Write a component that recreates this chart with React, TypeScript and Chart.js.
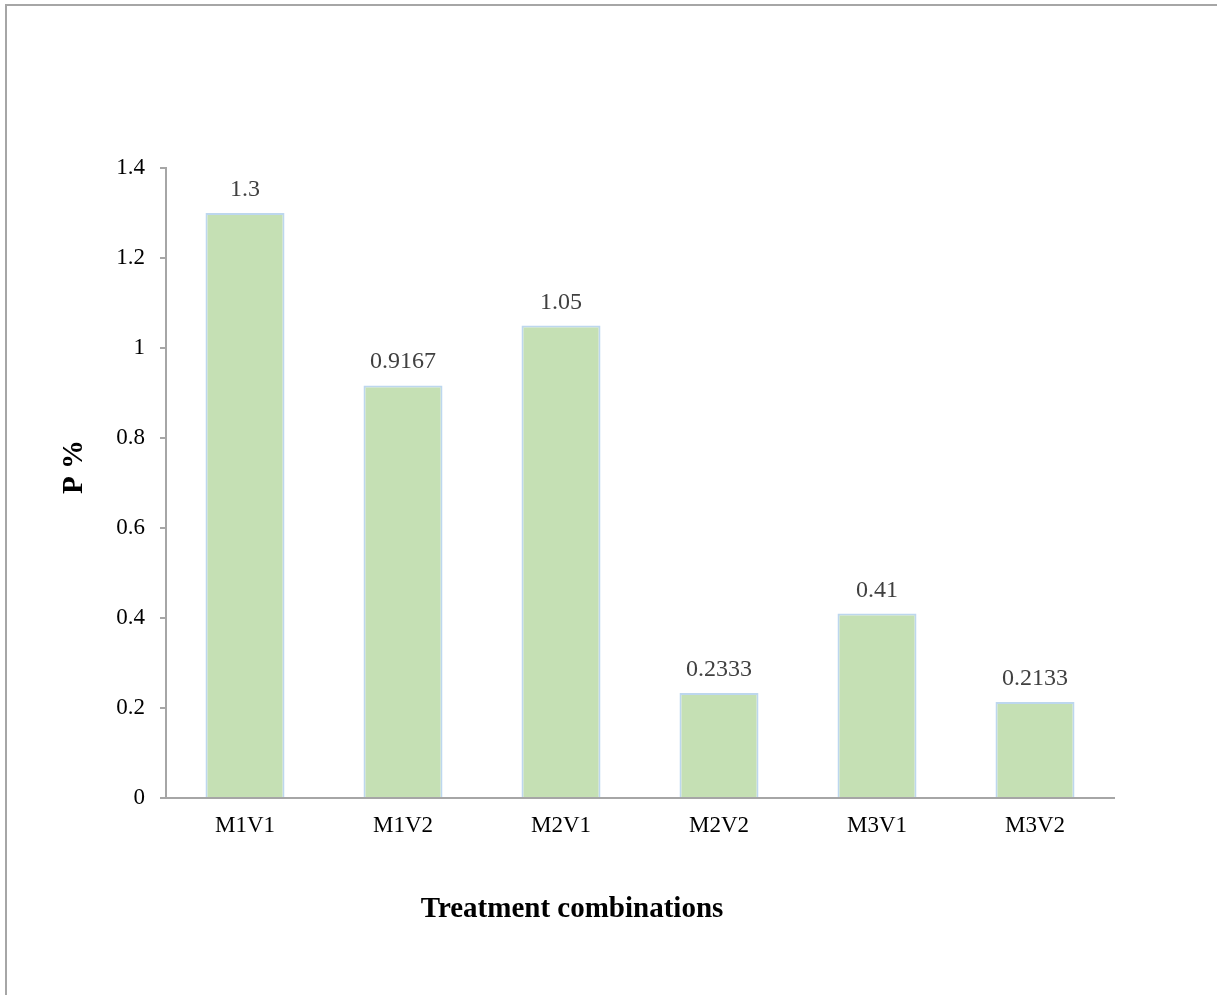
import React, { useEffect, useRef } from "react";
import { Chart, registerables } from "chart.js";

Chart.register(...registerables);

const categories = ["M1V1", "M1V2", "M2V1", "M2V2", "M3V1", "M3V2"];
const values = [1.3, 0.9167, 1.05, 0.2333, 0.41, 0.2133];
const valueLabels = ["1.3", "0.9167", "1.05", "0.2333", "0.41", "0.2133"];
const yMin = 0;
const yMax = 1.4;
const yStep = 0.2;
const xTitle = "Treatment combinations";
const yTitle = "P %";

const W = 1217;
const H = 995;
const FONT = "'Liberation Serif', 'Times New Roman', serif";

const dataLabelPlugin = {
  id: "dataLabels",
  afterDatasetsDraw(chart: any) {
    const { ctx } = chart;
    const meta = chart.getDatasetMeta(0);
    ctx.save();
    ctx.font = `24px ${FONT}`;
    ctx.fillStyle = "#404040";
    ctx.textAlign = "center";
    ctx.textBaseline = "alphabetic";
    meta.data.forEach((bar: any, i: number) => {
      ctx.fillText(valueLabels[i], bar.x, bar.y - 17);
    });
    ctx.restore();
  },
};

const axisTitlePlugin = {
  id: "axisTitles",
  afterDraw(chart: any) {
    const { ctx } = chart;
    ctx.save();
    ctx.font = `bold 29px ${FONT}`;
    ctx.fillStyle = "#000000";
    ctx.textAlign = "center";
    ctx.textBaseline = "alphabetic";
    ctx.fillText(xTitle, 572, 917);
    ctx.translate(82, 467);
    ctx.rotate(-Math.PI / 2);
    ctx.fillText(yTitle, 0, 0);
    ctx.restore();
  },
};

export default function App() {
  const ref = useRef<HTMLCanvasElement | null>(null);
  useEffect(() => {
    if (!ref.current) return;
    const chart = new Chart(ref.current, {
      type: "bar",
      data: {
        labels: categories,
        datasets: [
          {
            data: values,
            backgroundColor: "#c5e0b4",
            borderColor: "#bdd7ee",
            borderWidth: 2,
            barPercentage: 0.5,
            categoryPercentage: 1.0,
          },
        ],
      },
      options: {
        responsive: false,
        animation: false,
        layout: { padding: { left: 0, right: 103, top: 168, bottom: 0 } },
        plugins: {
          legend: { display: false },
          tooltip: { enabled: false },
        },
        scales: {
          x: {
            grid: { display: false, drawTicks: false },
            border: { display: true, color: "#a6a6a6", width: 2 },
            ticks: {
              color: "#000000",
              font: { family: FONT, size: 23 },
              padding: 14,
            },
            afterFit(scale: any) {
              scale.height = H - 798;
            },
          },
          y: {
            min: yMin,
            max: yMax,
            grid: {
              drawOnChartArea: false,
              drawTicks: true,
              tickLength: 6,
              color: "#a6a6a6",
              lineWidth: 2,
            },
            border: { display: true, color: "#a6a6a6", width: 2 },
            ticks: {
              stepSize: yStep,
              color: "#000000",
              font: { family: FONT, size: 23 },
              padding: 15,
              callback: (v: any) => String(Number(Number(v).toFixed(1))),
            },
            afterFit(scale: any) {
              scale.width = 166;
            },
          },
        },
      },
      plugins: [dataLabelPlugin, axisTitlePlugin],
    } as any);
    return () => chart.destroy();
  }, []);

  return (
    <div style={{ position: "absolute", left: 0, top: 0, width: W, height: H, overflow: "hidden", background: "#ffffff" }}>
      <div
        style={{
          position: "absolute",
          left: 5,
          top: 4,
          width: W - 5,
          height: H - 4,
          boxSizing: "border-box",
          borderLeft: "2px solid #a6a6a6",
          borderTop: "2px solid #a6a6a6",
        }}
      />
      <canvas ref={ref} width={W} height={H} style={{ position: "absolute", left: 0, top: 0, width: W, height: H }} />
    </div>
  );
}
